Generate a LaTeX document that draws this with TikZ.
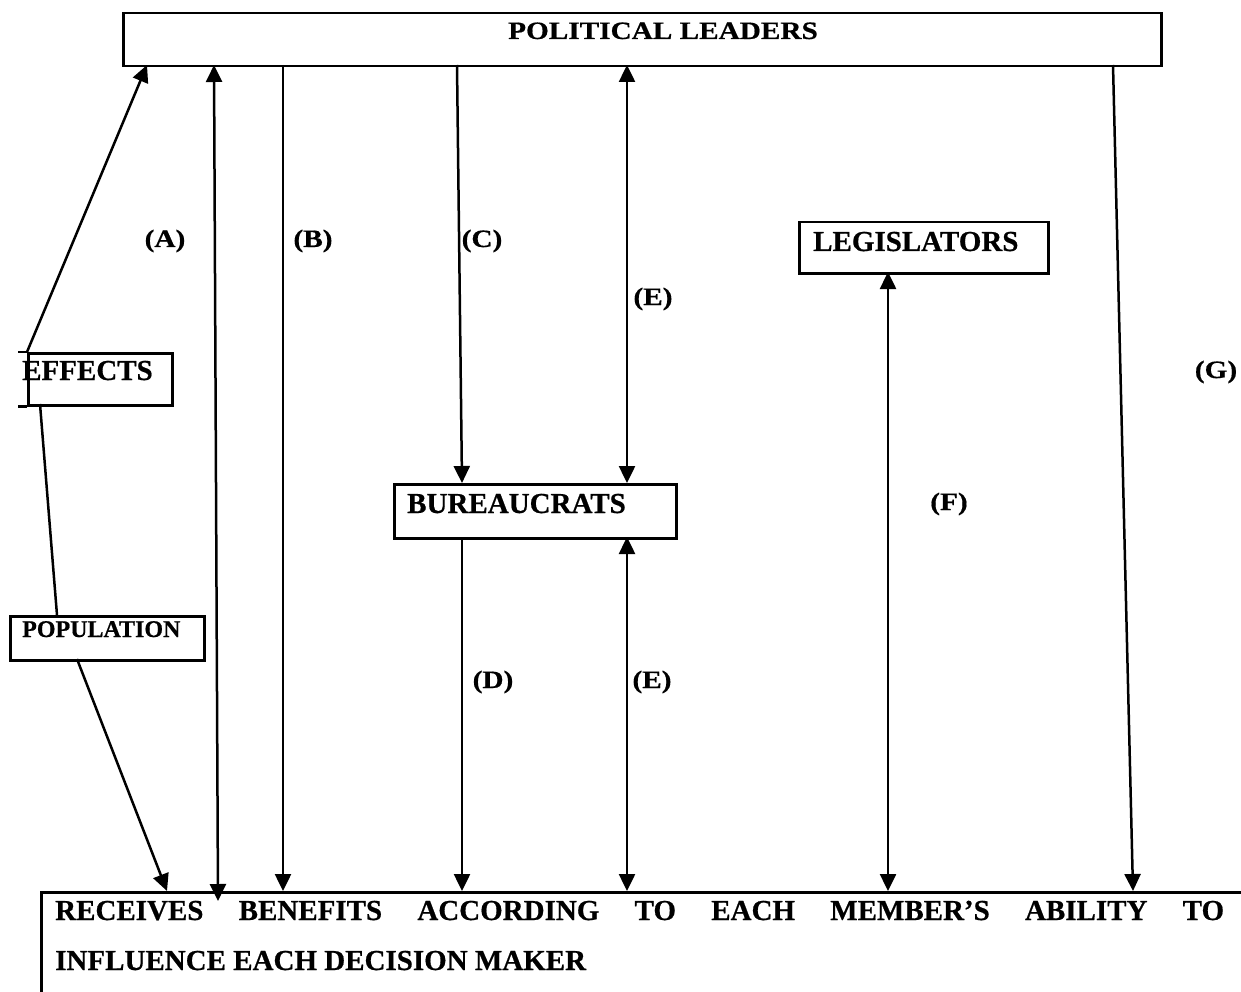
\documentclass[tikz,border=0pt]{standalone}
\usepackage{fontspec}
\setmainfont{Liberation Serif}[BoldFeatures={FakeBold=0.6}]
\newfontfamily\wideserif{Liberation Serif}[FakeStretch=1.17,BoldFeatures={FakeBold=0.6}]
\usetikzlibrary{arrows.meta}
\begin{document}
\begin{tikzpicture}[x=1pt,y=-1pt,
  box/.style={draw,line width=2.5pt,inner sep=0pt,anchor=north west},
  txt/.style={inner sep=0pt,font=\bfseries\fontsize{29}{34}\selectfont},
  small/.style={inner sep=0pt,font=\bfseries\fontsize{24}{29}\selectfont},
  lbl/.style={inner sep=0pt,anchor=base,font=\wideserif\bfseries\fontsize{25}{30}\selectfont},
  ln/.style={line width=2.5pt},
  tip/.tip={Triangle[length=17pt,width=16pt]},
  arr/.style={line width=2.5pt,-tip},
  dbl/.style={line width=2.5pt,tip-tip}]
\useasboundingbox (0,0) rectangle (1241,992);
% boxes
\node[box,minimum width=1038pt,minimum height=53pt] (pl) at (122,12) {};
\node[box,minimum width=144pt,minimum height=52pt] (eff) at (27,352) {};
\node[box,minimum width=194pt,minimum height=44pt] (pop) at (9,615) {};
\node[box,minimum width=282pt,minimum height=54pt] (bur) at (393,483) {};
\node[box,minimum width=249pt,minimum height=51pt] (leg) at (798,221) {};
\node[box,minimum width=1250pt,minimum height=150pt] (bot) at (40,891) {};
\draw[ln] (eff.north west) -- ++(-9,0);
\draw[ln] (eff.south west) -- ++(-9,0);
% texts
\node[txt,anchor=base,font=\wideserif\bfseries\fontsize{25}{30}\selectfont] (plt) at (663,39) {POLITICAL LEADERS};
\node[txt,anchor=base west] (efft) at (22,380) {EFFECTS};
\node[small,anchor=base west] (popt) at (22,637) {POPULATION};
\node[txt,anchor=base west] (burt) at (407,513) {BUREAUCRATS};
\node[txt,anchor=base west] (legt) at (813,251) {LEGISLATORS};
\node[txt,anchor=base west] (bl1) at (55,920) {\hbox to 1169pt{RECEIVES\hfill BENEFITS\hfill ACCORDING\hfill TO\hfill EACH\hfill MEMBER’S\hfill ABILITY\hfill TO}};
\node[txt,anchor=base west] (bl2) at (55,970) {INFLUENCE EACH DECISION MAKER};
% labels
\node[lbl] (la) at (165,247) {(A)};
\node[lbl] (lb) at (313,247) {(B)};
\node[lbl] (lc) at (482,247) {(C)};
\node[lbl] (le1) at (653,305) {(E)};
\node[lbl] (lg) at (1216,378) {(G)};
\node[lbl] (lf) at (949,510) {(F)};
\node[lbl] (ld) at (493,688) {(D)};
\node[lbl] (le2) at (652,688) {(E)};
% connector end points
\coordinate (tA) at (147,65);
\coordinate (t1) at (214,65);
\coordinate (b1) at (218,901);
\coordinate (tB) at (283,65);
\coordinate (bB) at (283,891);
\coordinate (tC) at (457,65);
\coordinate (bC) at (462,483);
\coordinate (tE) at (627,65);
\coordinate (mE) at (627,483);
\coordinate (uE) at (627,537);
\coordinate (bE) at (627,891);
\coordinate (tD) at (462,537);
\coordinate (bD) at (462,891);
\coordinate (tF) at (888,272);
\coordinate (bF) at (888,891);
\coordinate (tG) at (1113,65);
\coordinate (bG) at (1133,891);
\coordinate (e1) at (40,404);
\coordinate (p1) at (57,615);
\coordinate (p2) at (77,659);
\coordinate (bP) at (167,891);
% connectors
\draw[arr] (eff.north west) -- (tA);
\draw[ln] (e1) -- (p1);
\draw[arr] (p2) -- (bP);
\draw[dbl] (t1) -- (b1);
\draw[arr] (tB) -- (bB);
\draw[arr] (tC) -- (bC);
\draw[dbl] (tE) -- (mE);
\draw[dbl] (uE) -- (bE);
\draw[arr] (tD) -- (bD);
\draw[dbl] (tF) -- (bF);
\draw[arr] (tG) -- (bG);
\end{tikzpicture}
\end{document}
